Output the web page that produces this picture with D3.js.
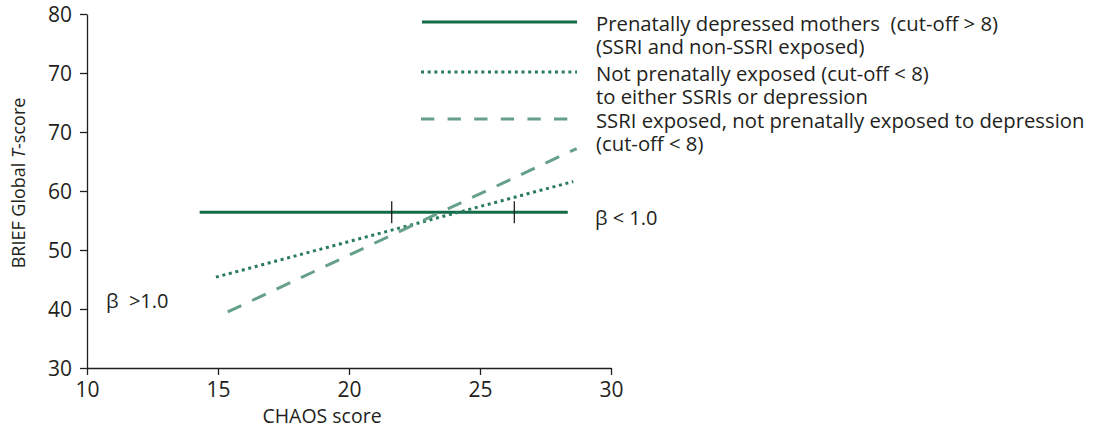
<!DOCTYPE html>
<html><head><meta charset="utf-8">
<script src="https://cdn.jsdelivr.net/npm/d3@7"></script>
<style>
body{margin:0;background:#fff;}
text{font-family:"Open Sans", "Liberation Sans", Arial, sans-serif;fill:#231f20;white-space:pre;}
</style></head>
<body><svg id="chart" width="1102" height="432"></svg>
<script>
// Data
const xTicks = [10, 15, 20, 25, 30];
const yTickValues = [30, 40, 50, 60, 70, 80, 90];
const yTickLabels = ["30", "40", "50", "60", "70", "70", "80"];
const seriesNames = ["depressed", "notExposed", "ssri"];
const depressedLine = [[14.3, 56.4], [28.35, 56.4]];
const depressedMarks = [21.63, 26.31];
const notExposedLine = [[14.92, 45.4], [28.56, 61.6]];
const ssriLine = [[15.37, 39.5], [28.69, 67.2]];
const legendLabels = [
  ["Prenatally depressed mothers  (cut-off > 8)", "(SSRI and non-SSRI exposed)"],
  ["Not prenatally exposed (cut-off < 8)", "to either SSRIs or depression"],
  ["SSRI exposed, not prenatally exposed to depression", "(cut-off < 8)"]
];

const svg = d3.select("#chart");
const m = {left: 87, top: 14, w: 524, h: 354};
const x = d3.scaleLinear().domain([10, 30]).range([m.left, m.left + m.w]);
const y = d3.scaleLinear().domain([30, 90]).range([m.top + m.h, m.top]);

const styles = {
  depressed: {color: "#136b48", dash: null, width: 3},
  notExposed: {color: "#2a7a5c", dash: "3,3.7", width: 3},
  ssri: {color: "#66a089", dash: "15,12", width: 3}
};

// Axes
const xAxis = d3.axisBottom(x).tickValues(xTicks).tickSize(7).tickSizeOuter(0);
const gx = svg.append("g").attr("transform", `translate(0,${m.top + m.h})`).call(xAxis);
const yAxis = d3.axisLeft(y).tickValues(yTickValues).tickFormat((d, i) => yTickLabels[i]).tickSize(7).tickSizeOuter(0);
const gy = svg.append("g").attr("transform", `translate(${m.left},0)`).call(yAxis);
[gx, gy].forEach(g => {
  g.attr("font-family", null).attr("font-size", null);
  g.select(".domain").attr("stroke", "#231f20").attr("stroke-width", 1.3);
  g.selectAll(".tick line").attr("stroke", "#231f20").attr("stroke-width", 1.3);
  g.selectAll(".tick text").style("font-size", "21px").attr("fill", "#231f20");
});
gx.selectAll(".tick text").attr("y", 14).attr("dy", "0.72em");
gy.selectAll(".tick text").attr("x", -15).attr("dy", "0.36em");

// Axis titles
svg.append("text").attr("x", 322).attr("y", 423)
  .attr("text-anchor", "middle").style("font-size", "19.5px").text("CHAOS score");
const yt = svg.append("text").attr("transform", `translate(25,183) rotate(-90)`)
  .attr("text-anchor", "middle").style("font-size", "18px");
yt.append("tspan").text("BRIEF Global ");
yt.append("tspan").style("font-style", "italic").text("T");
yt.append("tspan").text("-score");

// Lines
const line = d3.line().x(d => x(d[0])).y(d => y(d[1]));
const data = {depressed: depressedLine, notExposed: notExposedLine, ssri: ssriLine};
seriesNames.forEach(k => {
  svg.append("path").datum(data[k]).attr("d", line)
    .attr("fill", "none").attr("stroke", styles[k].color)
    .attr("stroke-width", styles[k].width)
    .attr("stroke-dasharray", styles[k].dash);
});
// Vertical marks on the solid line
svg.selectAll(".mark").data(depressedMarks).enter().append("line")
  .attr("x1", d => x(d)).attr("x2", d => x(d))
  .attr("y1", y(depressedLine[0][1]) - 11).attr("y2", y(depressedLine[0][1]) + 11)
  .attr("stroke", "#231f20").attr("stroke-width", 1.3);

// Beta annotations
svg.append("text").attr("x", 106).attr("y", 308).style("font-size", "20px").text("β  >1.0");
svg.append("text").attr("x", 595).attr("y", 225).style("font-size", "20px").text("β < 1.0");

// Legend
const legY = [22, 72, 119];
const legX = [422, 421, 421];
seriesNames.forEach((k, i) => {
  svg.append("line").attr("x1", legX[i]).attr("x2", 577).attr("y1", legY[i]).attr("y2", legY[i])
    .attr("stroke", styles[k].color).attr("stroke-width", styles[k].width)
    .attr("stroke-dasharray", k === "ssri" ? "13.3,13.3" : styles[k].dash);
  legendLabels[i].forEach((t, j) => {
    svg.append("text").attr("x", 596).attr("y", legY[i] + 9 + j * 23)
      .style("font-size", "20.3px").text(t);
  });
});
</script></body></html>
